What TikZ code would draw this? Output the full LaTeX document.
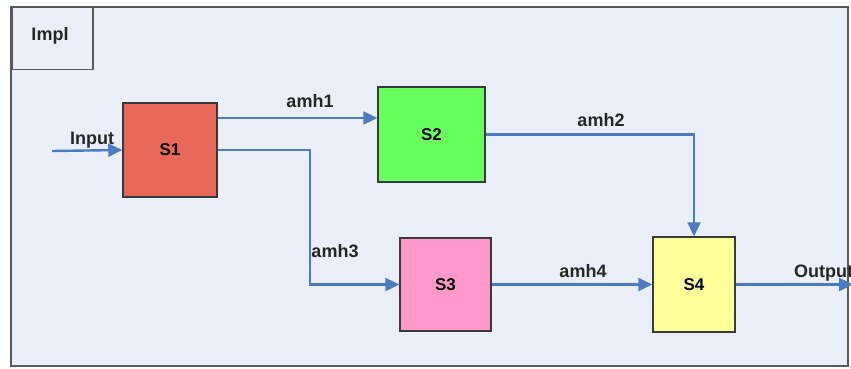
\documentclass[tikz,border=0pt]{standalone}
\usepackage{fontspec}
\setmainfont{Liberation Sans}
\usetikzlibrary{arrows.meta}
\definecolor{panel}{HTML}{E9EEF8}
\definecolor{flowblue}{HTML}{4A7CC4}
\definecolor{edge}{HTML}{3A3A3A}
\definecolor{sred}{HTML}{E8695A}
\definecolor{sgreen}{HTML}{66FF5C}
\definecolor{spink}{HTML}{FF99CC}
\definecolor{syellow}{HTML}{FFFF99}
\tikzset{
  block/.style={draw=edge, line width=1.5pt, inner sep=0pt, font=\bfseries\fontsize{17}{19}\selectfont},
  flow/.style={draw=flowblue, line width=2.4pt, -{Triangle[length=14pt,width=13pt]}},
  lbl/.style={font=\bfseries\fontsize{18}{20}\selectfont, inner sep=0pt, text=black!85},
}
\begin{document}
\begin{tikzpicture}[x=1pt,y=-1pt]
  \useasboundingbox (0,0) rectangle (851,369);
  % outer panel
  \draw[fill=panel, draw=edge!85, line width=1.6pt] (11,7) rectangle (848,366);
  % title tab
  \node[draw=edge!85, line width=1.5pt, fill=panel, minimum width=81pt, minimum height=62pt, inner sep=0pt, anchor=north west] (impl) at (11,7) {};
  \node[lbl] (impltxt) at (50,36) {Impl};

  % stages
  \node[block, fill=sred,    minimum width=94pt,  minimum height=94pt] (S1) at (170,150)   {S1};
  \node[block, fill=sgreen,  minimum width=107pt, minimum height=95pt] (S2) at (431.5,134.5) {S2};
  \node[block, fill=spink,   minimum width=91pt,  minimum height=93pt] (S3) at (445.5,284.5) {S3};
  \node[block, fill=syellow, minimum width=82pt,  minimum height=95pt] (S4) at (694,284.5)   {S4};

  % free ends and bends
  \coordinate (in)  at (52,151);
  \coordinate (out) at (853,284.5);
  \coordinate (b3)  at (310,150);

  % connectors
  \draw[flow] (in) -- (S1.west);
  \draw[flow] ([yshift=32pt]S1.east) -- ([yshift=32pt]S1.east -| S2.west);
  \draw[flow] (S1.east) -- (b3) |- (S3.west);
  \draw[flow] (S2.east) -| (S4.north);
  \draw[flow] (S3.east) -- (S4.west);
  \draw[flow] (S4.east) -- (out);

  % signal labels
  \node[lbl] (lin)  at (92,140)  {Input};
  \node[lbl] (l1)   at (310,101) {amh1};
  \node[lbl] (l2)   at (601,120) {amh2};
  \node[lbl] (l3)   at (335,251) {amh3};
  \node[lbl] (l4)   at (583,271) {amh4};
  \node[lbl, anchor=west] (lout) at (794,273) {Output};
\end{tikzpicture}
\end{document}
